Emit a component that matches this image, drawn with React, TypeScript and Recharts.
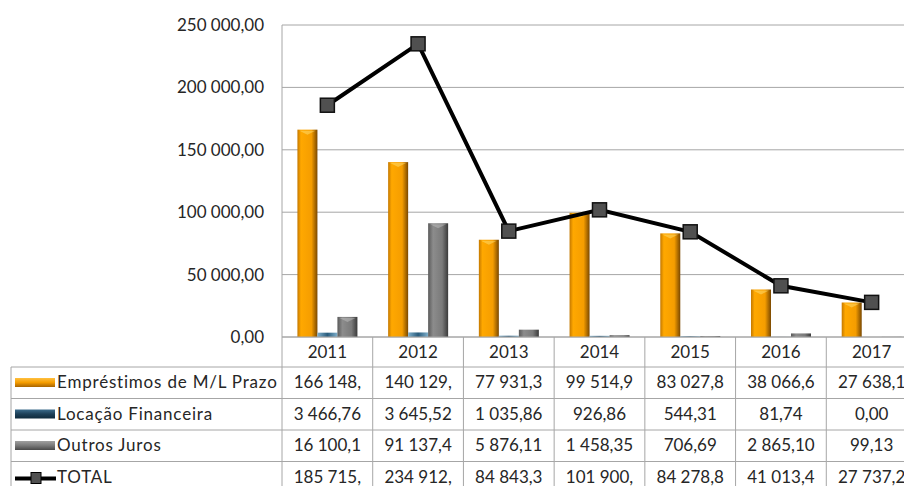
import React from 'react';
import { ComposedChart, Bar, Line, XAxis, YAxis, CartesianGrid } from 'recharts';

const years = ['2011', '2012', '2013', '2014', '2015', '2016', '2017'];
const emprestimos = [166148, 140129, 77931.3, 99514.9, 83027.8, 38066.6, 27638.1];
const locacao = [3466.76, 3645.52, 1035.86, 926.86, 544.31, 81.74, 0.0];
const outrosJuros = [16100.1, 91137.4, 5876.11, 1458.35, 706.69, 2865.1, 99.13];
const total = [185715, 234912, 84843.3, 101900, 84278.8, 41013.4, 27737.2];
const seriesNames = ['Empréstimos de M/L Prazo', 'Locação Financeira', 'Outros Juros', 'TOTAL'];
const yTicks = [0, 50000, 100000, 150000, 200000, 250000];

const data = years.map((year, i) => ({
  year,
  emprestimos: emprestimos[i],
  locacao: locacao[i],
  outros: outrosJuros[i],
  total: total[i],
}));
const tableRows = [emprestimos, locacao, outrosJuros, total];

const FONT = 'Lato, "Liberation Sans", sans-serif';
const TEXT = '#262626';
const BORDER = '#a6a6a6';
const HEADER_H = 30;
const ROW_H = 31.5;
const BASE = 21; // text baseline below the top of a row
const TABLE_LEFT = 11;

// pt-PT style: space for thousands, comma for decimals
const fmt = (v: number) => {
  const [int, dec] = v.toFixed(2).split('.');
  return int.replace(/\B(?=(\d{3})+(?!\d))/g, ' ') + ',' + dec;
};

const SeriesIcon = ({ row, x, y }: { row: number; x: number; y: number }) => {
  if (row === 3) {
    return (
      <g>
        <line x1={x} x2={x + 41} y1={y + 2} y2={y + 2} stroke="#000" strokeWidth={4} />
        <rect x={x + 16} y={y - 4} width={10} height={11} fill="#505050" stroke="#000" strokeWidth={1} />
      </g>
    );
  }
  const fills = ['url(#gOrangeIcon)', 'url(#gBlueIcon)', 'url(#gGrayIcon)'];
  return <rect x={x} y={y - 4} width={40} height={9} fill={fills[row]} />;
};

// each x-axis tick draws its column of the data table
const TableColumn = (props: any) => {
  const { x, y, payload, index, width, visibleTicksCount } = props;
  const half = width / visibleTicksCount / 2;
  const left = x - half;
  const right = x + half;
  const bottom = y + HEADER_H + ROW_H * tableRows.length;
  return (
    <g fontFamily={FONT} fontSize={17} fill={TEXT}>
      <line x1={left} x2={left} y1={y} y2={bottom} stroke={BORDER} />
      {index === visibleTicksCount - 1 && <line x1={right} x2={right} y1={y} y2={bottom} stroke={BORDER} />}
      <text x={x} y={y + 21} textAnchor="middle">
        {payload.value}
      </text>
      {tableRows.map((row, r) => {
        const top = y + HEADER_H + ROW_H * r;
        return (
          <g key={r}>
            <line x1={left} x2={right} y1={top} y2={top} stroke={BORDER} />
            <text x={x} y={top + BASE} textAnchor="middle">
              {fmt(row[index]).slice(0, 8)}
            </text>
          </g>
        );
      })}
      {index === 0 && (
        <g>
          <line x1={TABLE_LEFT} x2={TABLE_LEFT} y1={y + HEADER_H} y2={bottom} stroke={BORDER} />
          {seriesNames.map((name, r) => {
            const top = y + HEADER_H + ROW_H * r;
            return (
              <g key={name}>
                <line x1={TABLE_LEFT} x2={left} y1={top} y2={top} stroke={BORDER} />
                <SeriesIcon row={r} x={TABLE_LEFT + 4} y={top + BASE - 6} />
                <text x={TABLE_LEFT + 46} y={top + BASE} letterSpacing={0.8}>
                  {name}
                </text>
              </g>
            );
          })}
        </g>
      )}
    </g>
  );
};

const makeBevelBar = (bevelColor: string) => (props: any) => {
  const { x, y, width, height, fill } = props;
  if (!height || height <= 0) return null;
  const bevel = Math.min(width / 2, height);
  return (
    <g>
      <rect x={x} y={y} width={width} height={height} fill={fill} />
      {height > 8 && (
        <polygon
          points={`${x + 2},${y + 1} ${x + width - 2},${y + 1} ${x + width / 2},${y + bevel * 0.5}`}
          fill={bevelColor}
          fillOpacity={0.45}
        />
      )}
    </g>
  );
};
const OrangeBar = makeBevelBar('#ffe680');
const BlueBar = makeBevelBar('#a8d0e8');
const GrayBar = makeBevelBar('#c8c8c8');

const SquareDot = (props: any) => {
  const { cx, cy } = props;
  return <rect x={cx - 7} y={cy - 7} width={14} height={14} fill="#505050" stroke="#111" strokeWidth={1.5} />;
};

export default function App() {
  return (
    <div style={{ position: 'absolute', left: 0, top: 0, width: 904, height: 486, overflow: 'hidden', background: '#fff' }}>
      <ComposedChart
        width={930}
        height={500}
        data={data}
        margin={{ top: 25, right: 13, bottom: 0, left: 0 }}
        barCategoryGap="17%"
        barGap={0}
      >
        <defs>
          <linearGradient id="gOrange" x1="0" y1="0" x2="1" y2="0">
            <stop offset="0%" stopColor="#c47800" />
            <stop offset="18%" stopColor="#ffa800" />
            <stop offset="70%" stopColor="#f59d00" />
            <stop offset="100%" stopColor="#7a4800" />
          </linearGradient>
          <linearGradient id="gOrangeIcon" x1="0" y1="0" x2="0" y2="1">
            <stop offset="0%" stopColor="#ffc040" />
            <stop offset="50%" stopColor="#f59d00" />
            <stop offset="100%" stopColor="#a86400" />
          </linearGradient>
          <linearGradient id="gBlue" x1="0" y1="0" x2="1" y2="0">
            <stop offset="0%" stopColor="#7fb0cc" />
            <stop offset="50%" stopColor="#2a5c7c" />
            <stop offset="100%" stopColor="#7fb0cc" />
          </linearGradient>
          <linearGradient id="gBlueIcon" x1="0" y1="0" x2="0" y2="1">
            <stop offset="0%" stopColor="#3c6c8c" />
            <stop offset="50%" stopColor="#1d4058" />
            <stop offset="100%" stopColor="#0f2a3c" />
          </linearGradient>
          <linearGradient id="gGray" x1="0" y1="0" x2="1" y2="0">
            <stop offset="0%" stopColor="#5a5a5a" />
            <stop offset="25%" stopColor="#8c8c8c" />
            <stop offset="70%" stopColor="#7a7a7a" />
            <stop offset="100%" stopColor="#3a3a3a" />
          </linearGradient>
          <linearGradient id="gGrayIcon" x1="0" y1="0" x2="0" y2="1">
            <stop offset="0%" stopColor="#a0a0a0" />
            <stop offset="50%" stopColor="#7a7a7a" />
            <stop offset="100%" stopColor="#4a4a4a" />
          </linearGradient>
        </defs>
        <CartesianGrid vertical={false} stroke={BORDER} />
        <XAxis
          dataKey="year"
          height={163}
          interval={0}
          tickLine={false}
          tickSize={0}
          tickMargin={0}
          axisLine={{ stroke: BORDER }}
          tick={(p: any) => <TableColumn {...p} />}
        />
        <YAxis
          width={282}
          domain={[0, 250000]}
          ticks={yTicks}
          interval={0}
          tickFormatter={fmt}
          tickLine={false}
          tickSize={0}
          tickMargin={18}
          axisLine={{ stroke: BORDER }}
          tick={{ fontFamily: FONT, fontSize: 17, fill: TEXT }}
        />
        <Bar dataKey="emprestimos" name={seriesNames[0]} fill="url(#gOrange)" shape={OrangeBar} isAnimationActive={false} />
        <Bar dataKey="locacao" name={seriesNames[1]} fill="url(#gBlue)" shape={BlueBar} isAnimationActive={false} />
        <Bar dataKey="outros" name={seriesNames[2]} fill="url(#gGray)" shape={GrayBar} isAnimationActive={false} />
        <Line
          dataKey="total"
          name={seriesNames[3]}
          stroke="#000"
          strokeWidth={4}
          dot={<SquareDot />}
          activeDot={false}
          isAnimationActive={false}
        />
      </ComposedChart>
    </div>
  );
}
